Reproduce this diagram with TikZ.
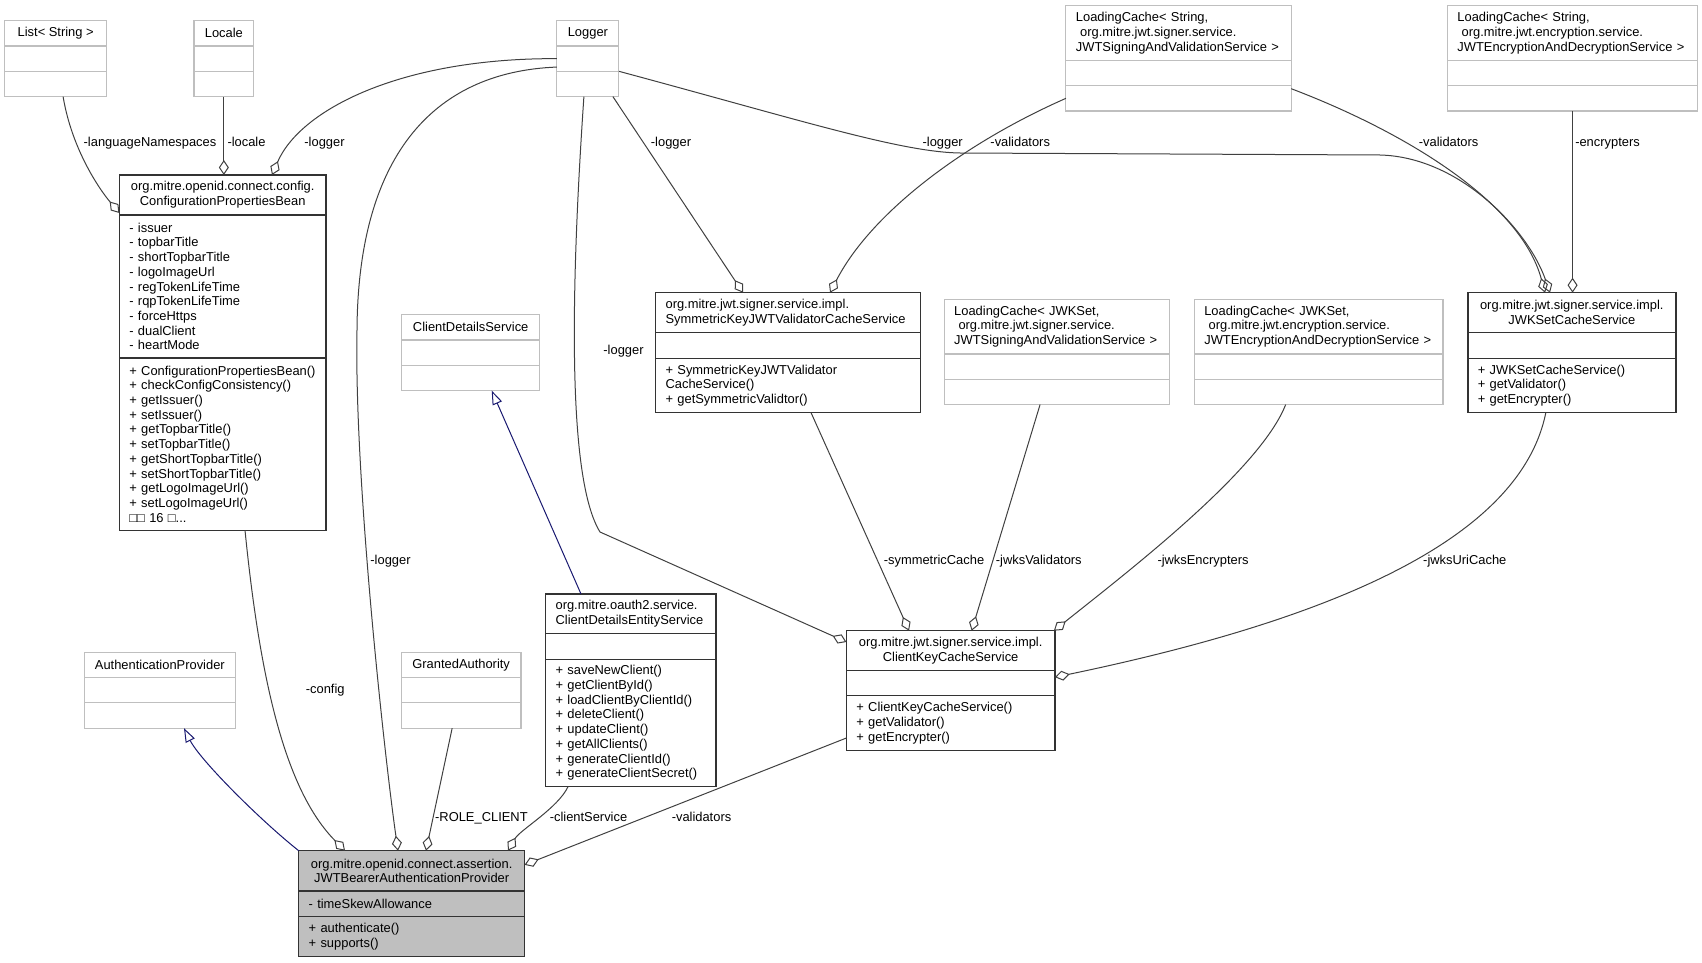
\documentclass[tikz,border=0pt]{standalone}
\usepackage{fontspec}
\setmainfont{Liberation Sans}
\usetikzlibrary{arrows.meta}

\definecolor{assocgray}{HTML}{404040}
\definecolor{inhblue}{HTML}{191970}
\definecolor{extgray}{HTML}{BFBFBF}
\definecolor{selgray}{HTML}{BFBFBF}

\begin{document}
\begin{tikzpicture}[x=1pt,y=-1pt, font=\fontsize{12.9}{14.7}\selectfont,
  cbox/.style={draw=black!80, line width=1.4pt, anchor=north west, inner xsep=10pt, inner ysep=0pt, outer sep=0pt},
  xbox/.style={cbox, draw=extgray, line width=1.1pt},
  lbl/.style={inner sep=0pt, text height=9.5pt, text depth=2.7pt},
  agg/.style={draw=assocgray, line width=1pt, -{Diamond[open,length=15pt,width=10pt]}},
  inh/.style={draw=inhblue, line width=1pt, -{Triangle[open,length=14pt,width=10pt]}}]
\useasboundingbox (0,0) rectangle (1702,963);

% outside classes
\foreach \cls/\x/\y/\w/\txt in {lst/4.6/20.7/102.2/{List< String >}, loc/194/20.7/59.7/Locale,
  log/556.9/20.7/62/Logger, cds/401.8/314.7/137.8/ClientDetailsService,
  ap/84.4/652.3/150.9/AuthenticationProvider, ga/401.3/652.3/119.7/GrantedAuthority} {
\node[xbox, minimum width=\w*1pt, minimum height=25.3pt] (\cls) at (\x,\y) {\txt};
\node[xbox, minimum width=\w*1pt, minimum height=25.3pt] (\cls1) at (\cls.south west) {};
\node[xbox, minimum width=\w*1pt, minimum height=25.3pt] (\cls2) at (\cls1.south west) {};
}
\foreach \cls/\x/\y/\w/\txt in {
  lcs/1065.9/5.7/225.3/{LoadingCache<~String,\\~org.mitre.jwt.signer.service.\\JWTSigningAndValidationService~>},
  lce/1447.4/5.7/250.3/{LoadingCache<~String,\\~org.mitre.jwt.encryption.service.\\JWTEncryptionAndDecryptionService~>},
  ljs/944.2/299.3/225.7/{LoadingCache<~JWKSet,\\~org.mitre.jwt.signer.service.\\JWTSigningAndValidationService~>},
  lje/1194.3/299.3/248.7/{LoadingCache<~JWKSet,\\~org.mitre.jwt.encryption.service.\\JWTEncryptionAndDecryptionService~>}} {
\pgfmathsetmacro\tw{\w-20}
\node[xbox, text width=\tw pt, align=left, minimum height=54.7pt] (\cls) at (\x,\y) {\txt};
\node[xbox, minimum width=\w*1pt, minimum height=25.3pt] (\cls1) at (\cls.south west) {};
\node[xbox, minimum width=\w*1pt, minimum height=25.3pt] (\cls2) at (\cls1.south west) {};
}

% ConfigurationPropertiesBean
\node[cbox, text width=186.6pt, align=center, minimum height=40pt] (cfg) at (119.4,175) {org.mitre.openid.connect.config.\\ConfigurationPropertiesBean};
\node[cbox, text width=186.6pt, align=left, minimum height=142.9pt] (cfg1) at (cfg.south west) {-~issuer\\-~topbarTitle\\-~shortTopbarTitle\\-~logoImageUrl\\-~regTokenLifeTime\\-~rqpTokenLifeTime\\-~forceHttps\\-~dualClient\\-~heartMode};
\node[cbox, text width=186.6pt, align=left, minimum height=172.3pt] (cfg2) at (cfg1.south west) {+~ConfigurationPropertiesBean()\\+~checkConfigConsistency()\\+~getIssuer()\\+~setIssuer()\\+~getTopbarTitle()\\+~setTopbarTitle()\\+~getShortTopbarTitle()\\+~setShortTopbarTitle()\\+~getLogoImageUrl()\\+~setLogoImageUrl()\\□□~16~□...};

% SymmetricKeyJWTValidatorCacheService
\node[cbox, text width=244.9pt, align=left, minimum height=40pt] (sym) at (655.6,292.7) {org.mitre.jwt.signer.service.impl.\\SymmetricKeyJWTValidatorCacheService};
\node[cbox, minimum width=264.9pt, minimum height=25.6pt] (sym1) at (sym.south west) {};
\node[cbox, text width=244.9pt, align=left, minimum height=54.4pt] (sym2) at (sym1.south west) {+~SymmetricKeyJWTValidator\\CacheService()\\+~getSymmetricValidtor()};

% JWKSetCacheService
\node[cbox, text width=188pt, align=center, minimum height=40pt] (jwk) at (1467.8,292.7) {org.mitre.jwt.signer.service.impl.\\JWKSetCacheService};
\node[cbox, minimum width=208pt, minimum height=25.6pt] (jwk1) at (jwk.south west) {};
\node[cbox, text width=188pt, align=left, minimum height=54.4pt] (jwk2) at (jwk1.south west) {+~JWKSetCacheService()\\+~getValidator()\\+~getEncrypter()};

% ClientDetailsEntityService
\node[cbox, text width=150.4pt, align=left, minimum height=39.3pt] (cdes) at (545.6,594) {org.mitre.oauth2.service.\\ClientDetailsEntityService};
\node[cbox, minimum width=170.4pt, minimum height=26pt] (cdes1) at (cdes.south west) {};
\node[cbox, text width=150.4pt, align=left, minimum height=127.4pt] (cdes2) at (cdes1.south west) {+~saveNewClient()\\+~getClientById()\\+~loadClientByClientId()\\+~deleteClient()\\+~updateClient()\\+~getAllClients()\\+~generateClientId()\\+~generateClientSecret()};

% ClientKeyCacheService
\node[cbox, text width=188.5pt, align=center, minimum height=40pt] (ckc) at (846.4,630.7) {org.mitre.jwt.signer.service.impl.\\ClientKeyCacheService};
\node[cbox, minimum width=208.5pt, minimum height=25pt] (ckc1) at (ckc.south west) {};
\node[cbox, text width=188.5pt, align=left, minimum height=54.6pt] (ckc2) at (ckc1.south west) {+~ClientKeyCacheService()\\+~getValidator()\\+~getEncrypter()};

% JWTBearerAuthenticationProvider
\node[cbox, fill=selgray, text width=205.9pt, align=center, minimum height=40.3pt] (jwt) at (298.7,850.7) {org.mitre.openid.connect.assertion.\\JWTBearerAuthenticationProvider};
\node[cbox, fill=selgray, text width=205.9pt, align=left, minimum height=25.7pt] (jwt1) at (jwt.south west) {-~timeSkewAllowance};
\node[cbox, fill=selgray, text width=205.9pt, align=left, minimum height=40pt] (jwt2) at (jwt1.south west) {+~authenticate()\\+~supports()};

% aggregations
\draw[agg] ([xshift=7.4pt]lst2.south) .. controls (72,150) and (100,190) .. ([yshift=2pt]cfg.south west);
\draw[agg] (loc2.south) -- (loc2.south |- cfg.north);
\draw[agg] (log1.west) .. controls (400,58) and (300,110) .. ([xshift=49.3pt]cfg.north);
\draw[agg] ([yshift=-8.4pt]log1.west) .. controls (430,72) and (358,160) .. (357,330) .. controls (354,480) and (385,760) .. ([xshift=-13.65pt]jwt.north);
\draw[agg] ([xshift=25pt]log2.south) -- ([xshift=-45pt]sym.north);
\draw[agg] ([xshift=-4pt]log2.south) .. controls (570,300) and (568,480) .. (600,532) -- ([yshift=8.7pt]ckc.west);
\draw[agg] (lcs2.west) .. controls (960,145) and (870,215) .. ([xshift=42pt]sym.north);
\draw[agg] (log2.north east) .. controls (800,120) and (900,152) .. (960,153) -- (1380,155) .. controls (1460,157) and (1528,230) .. ([xshift=-21.8pt]jwk.north);
\draw[agg] ([yshift=-3pt]lcs2.north east) .. controls (1400,130) and (1520,200) .. ([xshift=-26.8pt]jwk.north);
\draw[agg] (lce2.south) -- (lce2.south |- jwk.north);
\draw[agg] ([xshift=23pt]sym2.south) -- ([xshift=-41.6pt]ckc.north);
\draw[agg] ([xshift=-17pt]ljs2.south) -- ([xshift=21pt]ckc.north);
\draw[agg] ([xshift=-33pt]lje2.south) .. controls (1260,470) and (1130,570) .. ([xshift=-1pt]ckc.north east);
\draw[agg] ([xshift=-26pt]jwk2.south) .. controls (1520,540) and (1330,620) .. ([yshift=6pt]ckc1.east);
\draw[agg] ([yshift=-15pt]ckc2.west) -- ([yshift=6pt]jwt.east);
\draw[agg] ([xshift=-62.8pt]cdes2.south) .. controls (558,808) and (520,830) .. ([xshift=96.35pt]jwt.north);
\draw[agg] ([xshift=-9pt]ga2.south) -- ([xshift=14.35pt]jwt.north);
\draw[agg] ([xshift=22.3pt]cfg2.south) .. controls (260,680) and (285,790) .. ([xshift=-66.65pt]jwt.north);

% inheritance
\draw[inh] (jwt.north west) .. controls (260,820) and (200,760) .. ([xshift=24.15pt]ap2.south);
\draw[inh] ([xshift=-49.8pt]cdes.north) -- ([xshift=21pt]cds2.south);

% member names
\foreach \nm/\x/\y/\txt in {lLang/150/142.7/-languageNamespaces, lLocale/246.5/142.7/-locale,
  lLogCfg/324.5/142.7/-logger, lLogSym/671/142.7/-logger, lLogJwk/942.7/142.7/-logger,
  lValSym/1020.2/142.7/-validators, lValJwk/1448.6/142.7/-validators, lEnc/1607.5/142.7/-encrypters,
  lLogCkc/623.5/351.5/-logger, lLogJwt/390.5/560.7/-logger, lSym/934/560.7/-symmetricCache,
  lJwksVal/1038.8/560.7/-jwksValidators, lJwksEnc/1203/560.7/-jwksEncrypters, lUri/1464.8/560.7/-jwksUriCache,
  lCfg/325.2/690/-config, lRole/481.4/818.3/-ROLE\_CLIENT, lCli/588.5/818.3/-clientService,
  lValJwt/701.5/818.3/-validators}
  \node[lbl] (\nm) at (\x,\y) {\txt};
\end{tikzpicture}
\end{document}
